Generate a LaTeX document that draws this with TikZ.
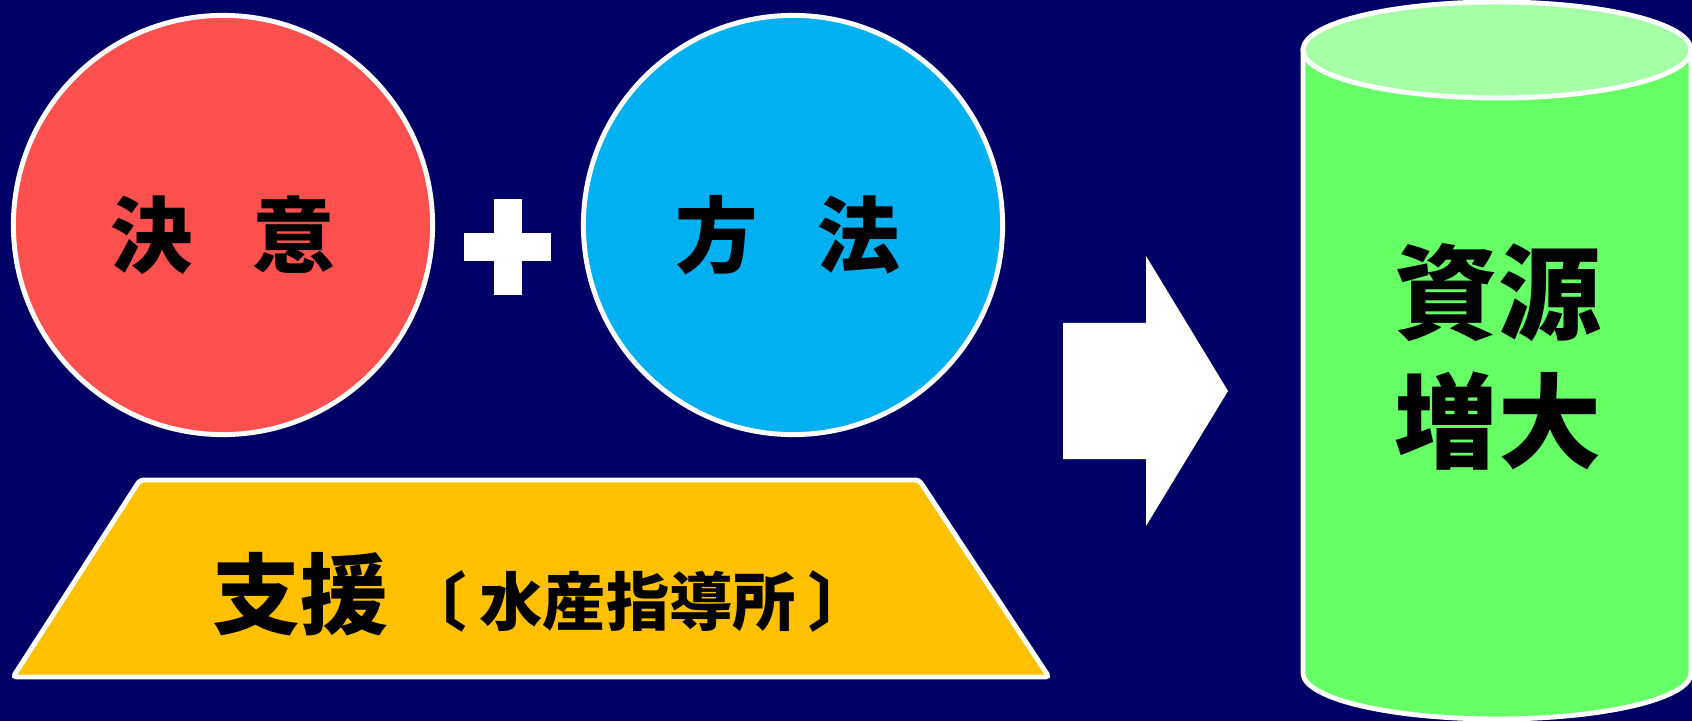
\documentclass[tikz,border=0pt]{standalone}
\usepackage{fontspec}
\newfontfamily\jpfont{Noto Sans CJK JP}
\definecolor{bgnavy}{HTML}{000066}
\definecolor{ketsuired}{HTML}{FF5050}
\definecolor{houhoublue}{HTML}{00B0F0}
\definecolor{shienyellow}{HTML}{FFC000}
\definecolor{shigengreen}{HTML}{66FF66}
\definecolor{shigenlight}{HTML}{A6FFA6}
\tikzset{
  ball/.style={circle,draw=white,line width=1.4pt,minimum size=4.19cm,inner sep=0pt},
  bigword/.style={font=\jpfont\bfseries\fontsize{23.5}{28}\selectfont,inner sep=0pt},
}

\begin{document}
\begin{tikzpicture}[x=0.01cm,y=0.01cm]
    \fill[bgnavy] (0,0) rectangle (1692,721);
    \useasboundingbox (0,0) rectangle (1692,721);
    % two circles and the plus
    \node[ball,fill=ketsuired] (ketsui) at (223,496) {};
    \node[bigword] (ketsuitxt) at (223,486) {決\hspace{0.72em}意};
    \node[ball,fill=houhoublue] (houhou) at (793,496) {};
    \node[bigword] (houhoutxt) at (788,486) {方\hspace{0.72em}法};
    \fill[white] (464,460) rectangle (551,488);
    \fill[white] (494,426) rectangle (522,522);
    % support
    \draw[white,line width=1.4pt,fill=shienyellow,rounded corners=1pt] (140,241) -- (919,241) -- (1049,44) -- (13,44) -- cycle;
    \node[bigword,font=\jpfont\bfseries\fontsize{25}{30}\selectfont] (shien) at (300,127) {支援};
    \node[font=\jpfont\bfseries\fontsize{18}{22}\selectfont,inner sep=0pt] (shidousho) at (638,120) {〔\kern0.2em 水産指導所\kern0.2em 〕};
    % arrow
    \fill[white] (1063,398) -- (1146,398) -- (1146,465) -- (1228,330) -- (1146,195) -- (1146,262) -- (1063,262) -- cycle;
    % cylinder
    \draw[white,line width=1.4pt,fill=shigengreen] (1303,671) -- (1303,48) arc[start angle=180,end angle=360,x radius=194,y radius=46] -- (1691,671) -- cycle;
    \draw[white,line width=1.4pt,fill=shigenlight] (1497,671) ellipse [x radius=194,y radius=48];
    \node[font=\jpfont\bfseries\fontsize{29.3}{36.6}\selectfont,align=center,inner sep=0pt] (shigen) at (1498,364) {資源\\増大};
\end{tikzpicture}
\end{document}
